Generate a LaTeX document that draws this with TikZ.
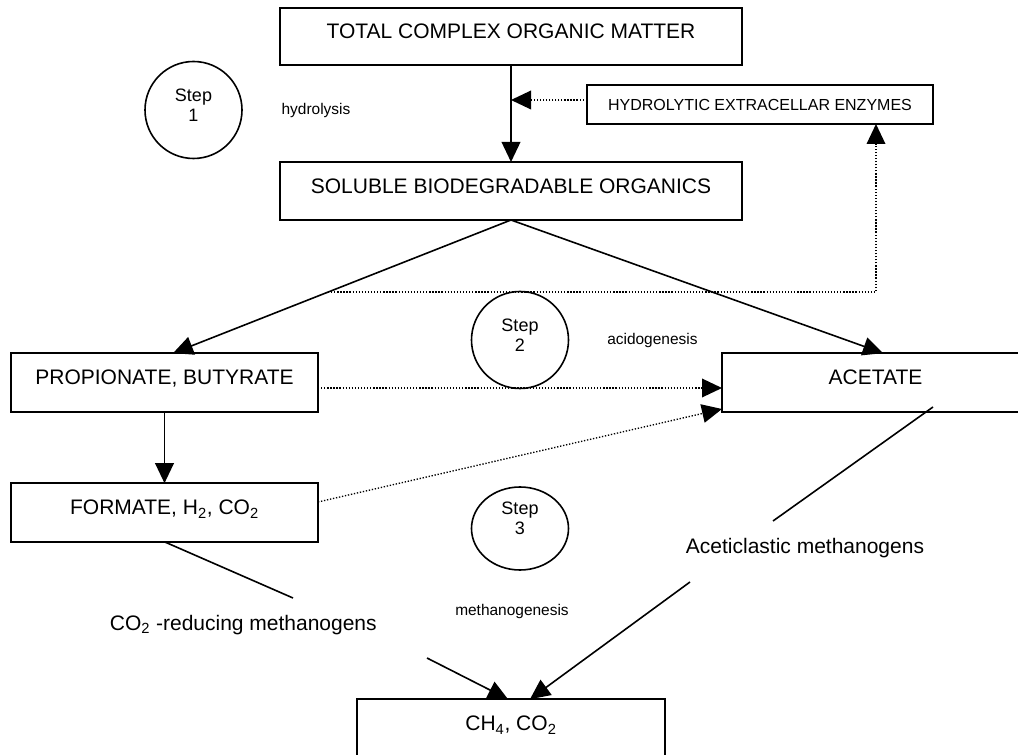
\documentclass[tikz,border=0pt]{standalone}
\usepackage{fontspec}
\setmainfont{Liberation Sans}
\usetikzlibrary{arrows.meta,shapes.geometric,calc}
\begin{document}
\begin{tikzpicture}[x=0.75pt,y=-0.75pt,
  box/.style={draw,rectangle,line width=1.2pt,inner sep=0pt,outer sep=0pt,
    minimum width=#1,minimum height=44pt,
    font=\fontsize{15.75}{19}\selectfont,text height=11.25pt,text depth=8pt},
  smallbox/.style={draw,rectangle,line width=1.2pt,inner sep=0pt,outer sep=0pt,
    minimum width=#1,minimum height=29.25pt,
    font=\fontsize{12}{14}\selectfont,text height=8.6pt,text depth=0pt},
  stepc/.style={draw,ellipse,line width=1.2pt,inner sep=0pt,outer sep=0pt},
  steptxt/.style={align=center,inner sep=0pt,font=\fontsize{13.5}{15}\selectfont},
  lbl/.style={inner sep=0pt,font=\fontsize{11.6}{14}\selectfont},
  biglbl/.style={inner sep=0pt,font=\fontsize{15.75}{19}\selectfont},
  ln/.style={line width=1.2pt},
  arr/.style={line width=1.2pt,-{Triangle[length=15pt,width=14pt]}},
  dotln/.style={line width=1pt,dash pattern=on 1pt off 1.3pt},
  dotarr/.style={dotln,-{Triangle[length=15pt,width=14pt]}}
]
\useasboundingbox (0,0) rectangle (1018,755);
\clip (0,0) rectangle (1018,755);

% boxes
\node[box=346.5pt,minimum height=42.75pt] (TOT) at (511,36.5) {TOTAL COMPLEX ORGANIC MATTER};
\node[smallbox=259.5pt] (HYD) at (760,104.5) {HYDROLYTIC EXTRACELLAR ENZYMES};
\node[box=346.5pt,minimum height=43.5pt] (SOL) at (511,191) {SOLUBLE BIODEGRADABLE ORGANICS};
\node[box=230.25pt] (PROP) at (164.5,382.5) {PROPIONATE, BUTYRATE};
\node[box=230.25pt] (FORM) at (164.5,512.5) {FORMATE, H\textsubscript{2}, CO\textsubscript{2}};
\node[box=230.25pt] (ACE) at (875.5,382.5) {ACETATE};
\node[box=231pt] (CH) at (511,728.5) {CH\textsubscript{4}, CO\textsubscript{2}};

% step circles
\node[stepc,minimum width=72.75pt,minimum height=72.75pt] (S1) at (193.5,110) {};
\node[steptxt] (S1t) at (193.5,105.5) {Step\\1};
\node[stepc,minimum width=72.75pt,minimum height=72.75pt] (S2) at (520,340) {};
\node[steptxt] (S2t) at (520,335.5) {Step\\2};
\node[stepc,minimum width=72.75pt,minimum height=62.25pt] (S3) at (520,528.5) {};
\node[steptxt] (S3t) at (520,518.5) {Step\\3};

% labels
\node[lbl,anchor=base] (Lhyd) at (316,115) {hydrolysis};
\node[lbl,anchor=base west] (Lacid) at (607,345) {acidogenesis};
\node[lbl,anchor=base] (Lmeth) at (512,615) {methanogenesis};
\node[biglbl,anchor=base east] (Lco2) at (377,630) {CO\textsubscript{2} -reducing methanogens};
\node[biglbl,anchor=base] (Lace) at (805,553) {Aceticlastic methanogens};

% coordinates
\coordinate (hy) at (511,100);
\coordinate (d0) at (328,292);
\coordinate (d1) at (876,292);
\coordinate (pa) at (722,388);
\coordinate (fa1) at (318,502);
\coordinate (fa2) at (722,409);
\coordinate (c1) at (293,598);
\coordinate (c2) at (427,658);
\coordinate (a1) at (933,407);
\coordinate (a2) at (773,521);
\coordinate (a3) at (690,582);

% connectors
\draw[arr] (TOT.south) -- (SOL.north);
\draw[dotarr] (HYD.west |- hy) -- (hy);
\draw[arr] (SOL.south) -- ([xshift=6.4pt]PROP.north);
\draw[arr] (SOL.south) -- ([xshift=5.6pt]ACE.north);
\draw[dotarr] (d0) -- (d1) -- (d1 |- HYD.south);
\draw[dotarr] (PROP.east |- pa) -- (ACE.west |- pa);
\draw[arr] (PROP.south) -- (FORM.north);
\draw[dotarr] (FORM.east |- fa1) -- (ACE.west |- fa2);
\draw[ln] (FORM.south) -- (c1);
\draw[arr] (c2) -- ([xshift=-2.25pt]CH.north);
\draw[ln] (a1) -- (a2);
\draw[arr] (a3) -- ([xshift=14.25pt]CH.north);
\end{tikzpicture}
\end{document}
